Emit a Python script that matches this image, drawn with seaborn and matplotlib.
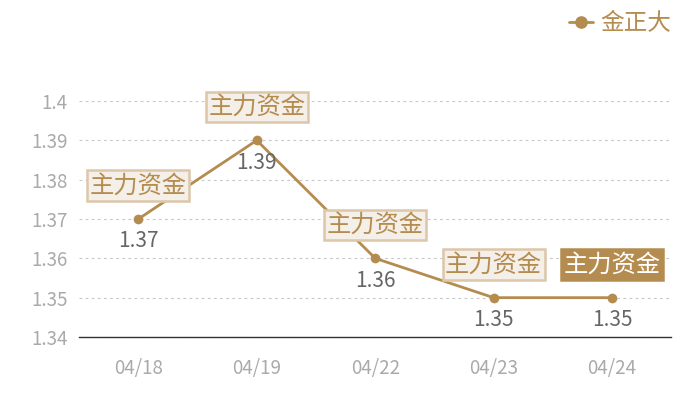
import matplotlib
matplotlib.use("Agg")
import matplotlib.pyplot as plt
import seaborn as sns

# --- datos --- #
fechas = ["04/18", "04/19", "04/22", "04/23", "04/24"]
valores = [1.37, 1.39, 1.36, 1.35, 1.35]
etiqueta = "主力资金"
serie = "金正大"
y_ticks = [1.34, 1.35, 1.36, 1.37, 1.38, 1.39, 1.40]
y_labels = ["1.34", "1.35", "1.36", "1.37", "1.38", "1.39", "1.4"]

ORO = "#b58c4f"

sns.set_theme(style="white")
plt.rcParams['font.family'] = ['Noto Sans CJK SC', 'DejaVu Sans']

fig = plt.figure(figsize=(7, 4), dpi=100)
ax = fig.add_axes([0.113, 0.1575, 0.846, 0.59])

sns.lineplot(x=fechas, y=valores, ax=ax, color=ORO, linewidth=2,
             marker="o", markersize=7, markeredgewidth=0, label=serie, sort=False)

ax.set_xlim(-0.5, len(fechas) - 0.5)
ax.set_ylim(1.34, 1.40)
ax.set_yticks(y_ticks)
ax.set_yticklabels(y_labels)
ax.grid(axis="y", color="#c8c8c8", linestyle=(0, (2.5, 3)), linewidth=0.8)
ax.set_axisbelow(True)

for s in ["top", "right", "left"]:
    ax.spines[s].set_visible(False)
ax.spines["bottom"].set_color("#333333")
ax.spines["bottom"].set_linewidth(1)

ax.tick_params(axis="both", length=0, labelsize=13.5, labelcolor="#aaaaaa")
ax.tick_params(axis="x", pad=15)
ax.tick_params(axis="y", pad=8)

for i, v in enumerate(valores):
    ultimo = i == len(valores) - 1
    ax.annotate(etiqueta, (i, v), xytext=(0, 24), textcoords="offset points",
                ha="center", va="center", fontsize=17.5,
                color="white" if ultimo else ORO,
                bbox=dict(boxstyle="square,pad=0.1",
                          fc=ORO if ultimo else "#f4efe8",
                          ec=ORO if ultimo else "#dcc7a8", lw=1.8),
                annotation_clip=False, zorder=5)
    ax.annotate(f"{v:.2f}", (i, v), xytext=(0, -16), textcoords="offset points",
                ha="center", va="center", fontsize=15, color="#666666",
                annotation_clip=False)

leg = ax.legend(loc="upper right", bbox_to_anchor=(0.975, 1.0), bbox_transform=fig.transFigure,
                frameon=False, fontsize=17, handlelength=1.0, handletextpad=0.3,
                borderaxespad=0.1, markerscale=1.3)
for t in leg.get_texts():
    t.set_color(ORO)

fig.savefig("out.png", dpi=100)
